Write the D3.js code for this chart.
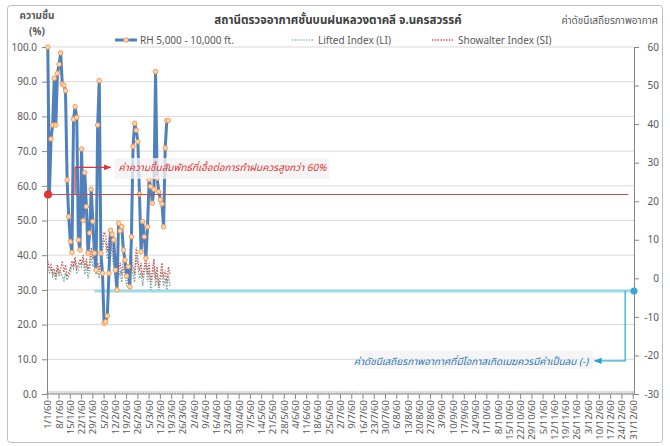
<!DOCTYPE html>
<html>
<head>
<meta charset="utf-8">
<script src="https://cdn.jsdelivr.net/npm/d3@7"></script>
<style>
  body { margin: 0; background: #fff; }
  svg text { font-family: Tahoma, "Leelawadee UI", "Noto Sans Thai", "DejaVu Sans", sans-serif; }
</style>
</head>
<body>
<div id="chart"></div>
<script>
// tick labels, one every 7 days (year 2560 BE)
const dateLabels = [
  "1/1/60","8/1/60","15/1/60","22/1/60","29/1/60","5/2/60","12/2/60","19/2/60","26/2/60",
  "5/3/60","12/3/60","19/3/60","26/3/60","2/4/60","9/4/60","16/4/60","23/4/60","30/4/60",
  "7/5/60","14/5/60","21/5/60","28/5/60","4/6/60","11/6/60","18/6/60","25/6/60",
  "2/7/60","9/7/60","16/7/60","23/7/60","30/7/60","6/8/60","13/8/60","20/8/60","27/8/60",
  "3/9/60","10/9/60","17/9/60","24/9/60","1/10/60","8/10/60","15/10/60","22/10/60","29/10/60",
  "5/11/60","12/11/60","19/11/60","26/11/60","3/12/60","10/12/60","17/12/60","24/12/60","31/12/60"
];
const daysInYear = 365;

// RH 5,000 - 10,000 ft. (%), daily from 1/1/60
const rhValues = [
  100, 57.5, 73.5, 77.5, 91, 77.5, 92.4, 95, 98.3, 89.3,
  89, 87.4, 61.7, 51.1, 43.9, 40.8, 79.2, 82.8, 79.7, 44.4,
  41.5, 70.6, 50, 63.8, 54, 40.6, 46.4, 59, 49.7, 40.6,
  35.7, 77.5, 90.3, 40.6, 34.8, 20.4, 20.8, 22.5, 34.8, 47.2,
  46, 44.4, 35.7, 30, 49.2, 47, 48.2, 41.5, 38.6, 34,
  36.7, 30.9, 45.3, 71.3, 78, 76, 72.7, 57.6, 41, 49.7,
  45.3, 39.1, 48.2, 61.8, 59.8, 55, 59, 92.9, 62.2, 58.3,
  56, 54.8, 48.2, 70.9, 78.8, 78.8
];

// Lifted Index (LI), daily from 1/1/60
const liValues = [
  3, 1.5, 2.5, 0.5, 1.5, -0.5, 2.5, 0.5, 1.5, 0.5, -0.5,
  1.5, -0.5, 0.5, 1.5, 3.5, 2.5, 4.5, 1.5, 2, 4,
  3, 5, 1, 4, 0, 2, 6, 3, 4, 1,
  2, 0, 4, 7, 10, 9, 5, 8, 11, 6,
  3, 1, 4, 0, 2, -1, 3, 1, -2, 0,
  2, 4, 1, -1, 6, 3, 0, 2, -2, 1,
  4, -1, 2, -3, 0, 3, -2, 1, -3, -1,
  2, -2, 0, -3, 1, -2
];

// Showalter Index (SI), daily from 1/1/60
const siValues = [
  4.5, 2.5, 3.5, 1.5, 2.5, 0.5, 3.5, 1.5, 2.5, 4.5, 1.5,
  3.5, 0.5, 1.5, 2.5, 4.5, 3.5, 5.5, 2.5, 3.5, 5,
  4, 6, 3, 5, 2, 4, 8, 5, 6, 3,
  4, 2, 6, 9, 12, 11, 7, 10, 13, 8,
  5, 3, 6, 2, 4, 1, 5, 3, 0, 2,
  4, 6, 3, 1, 8, 5, 2, 4, 0, 3,
  6, 1, 4, -1, 2, 5, 0, 3, -2, 1,
  4, 0, 2, -1, 3, 1
];

const leftTicks = d3.range(0, 101, 10);
const rightTicks = d3.range(-30, 61, 10);

const rhThreshold = 57.5;     // left axis
const indexThreshold = -3.3;  // right axis

const width = 670, height = 446;
const plot = { left: 47, right: 634, top: 47, bottom: 394 };

const svg = d3.select("#chart").append("svg")
  .attr("width", width)
  .attr("height", height);

// chart border
svg.append("rect")
  .attr("x", 7.5).attr("y", 5.5)
  .attr("width", 655).attr("height", 437)
  .attr("rx", 3)
  .attr("fill", "#fff")
  .attr("stroke", "#bfbfbf");

// scales
const x = d3.scaleLinear()
  .domain([-0.5, daysInYear - 0.5])
  .range([plot.left, plot.right]);
const yL = d3.scaleLinear().domain([0, 100]).range([plot.bottom, plot.top]);
const yR = d3.scaleLinear().domain([-30, 60]).range([plot.bottom, plot.top]);

// gridlines
svg.append("g")
  .selectAll("line")
  .data(leftTicks.filter(d => d > 0))
  .enter().append("line")
  .attr("x1", plot.left).attr("x2", plot.right)
  .attr("y1", d => yL(d)).attr("y2", d => yL(d))
  .attr("stroke", "#d9d9d9");

// left axis
const leftAxis = svg.append("g")
  .attr("transform", `translate(${plot.left},0)`)
  .call(d3.axisLeft(yL).tickValues(leftTicks).tickFormat(d3.format(".1f")).tickSize(5).tickPadding(5));
// right axis
const rightAxis = svg.append("g")
  .attr("transform", `translate(${plot.right},0)`)
  .call(d3.axisRight(yR).tickValues(rightTicks).tickSize(5).tickPadding(4));
rightAxis.selectAll("text").attr("text-anchor", "end").attr("dx", "16");

[leftAxis, rightAxis].forEach(a => {
  a.select(".domain").attr("stroke", "#868686");
  a.selectAll(".tick line").attr("stroke", "#868686");
  a.selectAll("text").attr("fill", "#595959").style("font-size", "10px");
});

// bottom axis: minor tick per day, major per week
const bottom = svg.append("g");
bottom.selectAll("line.minor")
  .data(d3.range(daysInYear + 1))
  .enter().append("line")
  .attr("class", "minor")
  .attr("x1", d => x(d - 0.5)).attr("x2", d => x(d - 0.5))
  .attr("y1", plot.bottom - 3).attr("y2", plot.bottom)
  .attr("stroke", "#a6a6a6").attr("stroke-width", 0.6);
bottom.append("line")
  .attr("x1", plot.left).attr("x2", plot.right)
  .attr("y1", plot.bottom).attr("y2", plot.bottom)
  .attr("stroke", "#868686");
bottom.selectAll("line.major")
  .data(dateLabels)
  .enter().append("line")
  .attr("class", "major")
  .attr("x1", (d, i) => x(i * 7)).attr("x2", (d, i) => x(i * 7))
  .attr("y1", plot.bottom).attr("y2", plot.bottom + 5)
  .attr("stroke", "#868686");
bottom.selectAll("text")
  .data(dateLabels)
  .enter().append("text")
  .attr("transform", (d, i) => `translate(${x(i * 7) + 3.5},${plot.bottom + 6}) rotate(-90)`)
  .attr("text-anchor", "end")
  .attr("fill", "#595959")
  .style("font-size", "9.5px")
  .text(d => d);

// cyan threshold line (right axis)
svg.append("line")
  .attr("x1", x(29)).attr("x2", plot.right)
  .attr("y1", yR(indexThreshold)).attr("y2", yR(indexThreshold))
  .attr("stroke", "#9fdbe5").attr("stroke-width", 3);

// LI / SI dotted lines
const lineR = d3.line().x((d, i) => x(i)).y(d => yR(d));
svg.append("path").datum(liValues)
  .attr("d", lineR).attr("fill", "none")
  .attr("stroke", "#6fa397").attr("stroke-width", 1.3)
  .attr("stroke-dasharray", "1.4,1.4");
svg.append("path").datum(siValues)
  .attr("d", lineR).attr("fill", "none")
  .attr("stroke", "#d0504d").attr("stroke-width", 1.3)
  .attr("stroke-dasharray", "1.4,1.4");

// RH line + markers
const lineL = d3.line().x((d, i) => x(i)).y(d => yL(d));
svg.append("path").datum(rhValues)
  .attr("d", lineL).attr("fill", "none")
  .attr("stroke", "#4f81bd").attr("stroke-width", 3)
  .attr("stroke-linejoin", "round");
svg.append("g").selectAll("circle")
  .data(rhValues)
  .enter().append("circle")
  .attr("cx", (d, i) => x(i)).attr("cy", d => yL(d))
  .attr("r", 2.3)
  .attr("fill", "#fcd5b4").attr("stroke", "#f79646").attr("stroke-width", 0.9);

// annotation boxes (semi-transparent, over the lines)
const noteRed = { day0: 41.5, day1: 175, top: 68, bottom: 62 };
svg.append("rect")
  .attr("x", x(noteRed.day0)).attr("y", yL(noteRed.top))
  .attr("width", x(noteRed.day1) - x(noteRed.day0))
  .attr("height", yL(noteRed.bottom) - yL(noteRed.top))
  .attr("fill", "#f2f2f2").attr("opacity", 0.8);
const noteBlue = { day0: 194, day1: 339, top: -18.7, bottom: -23.5 };
svg.append("rect")
  .attr("x", x(noteBlue.day0)).attr("y", yR(noteBlue.top))
  .attr("width", x(noteBlue.day1) - x(noteBlue.day0))
  .attr("height", yR(noteBlue.bottom) - yR(noteBlue.top))
  .attr("fill", "#f2f2f2").attr("opacity", 0.8);

// red threshold line (left axis)
svg.append("line")
  .attr("x1", plot.left).attr("x2", x(361))
  .attr("y1", yL(rhThreshold)).attr("y2", yL(rhThreshold))
  .attr("stroke", "#c0504d").attr("stroke-width", 1.2);
svg.append("circle")
  .attr("cx", plot.left + 1).attr("cy", yL(rhThreshold)).attr("r", 4)
  .attr("fill", "#e8322f");

// arrow markers
const defs = svg.append("defs");
[["arrRed", "#e03434"], ["arrBlue", "#2f9fd0"]].forEach(([id, c]) => {
  defs.append("marker")
    .attr("id", id).attr("viewBox", "0 0 10 10")
    .attr("refX", 9).attr("refY", 5)
    .attr("markerWidth", 6).attr("markerHeight", 6)
    .attr("orient", "auto")
    .append("path").attr("d", "M0,1L10,5L0,9Z").attr("fill", c);
});

// red callout
svg.append("path")
  .attr("d", d3.line()([[x(17), yL(rhThreshold)], [x(17), yL(65.3)], [x(39), yL(65.3)]]))
  .attr("fill", "none").attr("stroke", "#e03434").attr("stroke-width", 1.2)
  .attr("marker-end", "url(#arrRed)");
svg.append("text")
  .attr("x", x(44)).attr("y", yL(65.3) + 4)
  .attr("fill", "#e03434")
  .style("font-size", "10px").style("font-style", "italic")
  .text("ค่าความชื้นสัมพัทธ์ที่เอื้อต่อการทำฝนควรสูงกว่า 60%");

// blue callout
svg.append("path")
  .attr("d", d3.line()([[x(359), yR(indexThreshold)], [x(359), yR(-21.4)], [x(340), yR(-21.4)]]))
  .attr("fill", "none").attr("stroke", "#2fb0d6").attr("stroke-width", 1.3)
  .attr("marker-end", "url(#arrBlue)");
svg.append("circle")
  .attr("cx", plot.right).attr("cy", yR(indexThreshold)).attr("r", 3.5)
  .attr("fill", "#3aa6d6");
svg.append("text")
  .attr("x", x(336)).attr("y", yR(-21.4) + 4)
  .attr("text-anchor", "end")
  .attr("fill", "#2e75b6")
  .style("font-size", "10px").style("font-style", "italic")
  .text("ค่าดัชนีเสถียรภาพอากาศที่มีโอกาสเกิดเมฆควรมีค่าเป็นลบ (-)");

// titles
svg.append("text")
  .attr("x", 338).attr("y", 24)
  .attr("text-anchor", "middle")
  .attr("fill", "#404040")
  .style("font-size", "11.5px").style("font-weight", "bold")
  .text("สถานีตรวจอากาศชั้นบนฝนหลวงตาคลี  จ.นครสวรรค์");
svg.append("text")
  .attr("x", 37).attr("y", 19).attr("text-anchor", "middle")
  .attr("fill", "#595959").style("font-size", "10px").style("font-weight", "bold")
  .text("ความชื้น");
svg.append("text")
  .attr("x", 37).attr("y", 35).attr("text-anchor", "middle")
  .attr("fill", "#595959").style("font-size", "10px").style("font-weight", "bold")
  .text("(%)");
svg.append("text")
  .attr("x", 658).attr("y", 24).attr("text-anchor", "end")
  .attr("fill", "#595959").style("font-size", "10px")
  .text("ค่าดัชนีเสถียรภาพอากาศ");

// legend
const legendY = 40;
const legend = svg.append("g");
legend.append("line")
  .attr("x1", 115).attr("x2", 137).attr("y1", legendY).attr("y2", legendY)
  .attr("stroke", "#4f81bd").attr("stroke-width", 3);
legend.append("circle")
  .attr("cx", 126).attr("cy", legendY).attr("r", 2.3)
  .attr("fill", "#fcd5b4").attr("stroke", "#f79646").attr("stroke-width", 0.9);
legend.append("text").attr("x", 140).attr("y", legendY + 4)
  .attr("fill", "#595959").style("font-size", "10px")
  .text("RH 5,000 - 10,000 ft.");
legend.append("line")
  .attr("x1", 292).attr("x2", 314).attr("y1", legendY).attr("y2", legendY)
  .attr("stroke", "#8fb3c9").attr("stroke-width", 1.3).attr("stroke-dasharray", "1.4,1.4");
legend.append("text").attr("x", 318).attr("y", legendY + 4)
  .attr("fill", "#595959").style("font-size", "10px")
  .text("Lifted Index (LI)");
legend.append("line")
  .attr("x1", 432).attr("x2", 454).attr("y1", legendY).attr("y2", legendY)
  .attr("stroke", "#d0504d").attr("stroke-width", 1.3).attr("stroke-dasharray", "1.4,1.4");
legend.append("text").attr("x", 458).attr("y", legendY + 4)
  .attr("fill", "#595959").style("font-size", "10px")
  .text("Showalter Index (SI)");
</script>
</body>
</html>
